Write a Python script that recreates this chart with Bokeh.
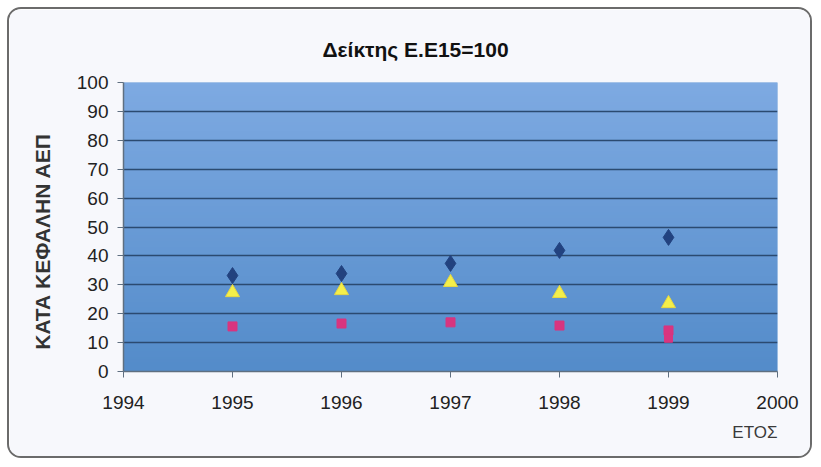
import numpy as np
from bokeh.plotting import figure
from bokeh.models import Title, FixedTicker, Range1d
from bokeh.embed import file_html
from bokeh.resources import INLINE

# ---- data ----
years = [1995, 1996, 1997, 1998, 1999]
series_diamond = [33.2, 33.9, 37.4, 41.9, 46.4]
series_triangle = [27.3, 28.0, 30.8, 27.0, 23.5]
series_square = [15.6, 16.6, 17.0, 15.9, 14.2]
series_extra = [np.nan, np.nan, np.nan, np.nan, 11.5]
x_ticks = [1994, 1995, 1996, 1997, 1998, 1999, 2000]
y_ticks = [0, 10, 20, 30, 40, 50, 60, 70, 80, 90, 100]

FONT = "Liberation Sans"
W, H = 805, 451
ML, MR, MT, MB = 114, 37, 73, 89

p = figure(width=W, height=H, output_backend="svg", toolbar_location=None,
           x_range=Range1d(1994, 2000), y_range=Range1d(0, 100),
           min_border_left=ML, min_border_right=MR, min_border_top=MT, min_border_bottom=MB,
           background_fill_color="#6a9bd6", border_fill_color="#f7f8fc",
           styles={"border": "2px solid #6b6b6b", "border-radius": "14px",
                   "overflow": "hidden", "margin-left": "7px", "margin-top": "7px"})
p.outline_line_color = None

# vertical gradient for plot area
h = 100
top = np.array([126, 170, 226])
bot = np.array([84, 140, 202])
img = np.zeros((h, 1), dtype=np.uint32)
view = img.view(dtype=np.uint8).reshape((h, 1, 4))
for i in range(h):
    t = i / (h - 1)
    c = bot * (1 - t) + top * t
    view[i, 0, 0] = int(c[0]); view[i, 0, 1] = int(c[1]); view[i, 0, 2] = int(c[2]); view[i, 0, 3] = 255
p.image_rgba(image=[img], x=1994, y=0, dw=6, dh=100, level="image")

# grid
p.xgrid.grid_line_color = None
p.ygrid.grid_line_color = "#2b4a70"
p.ygrid.grid_line_width = 1.6
p.ygrid.ticker = FixedTicker(ticks=y_ticks)

# axes
p.xaxis.ticker = FixedTicker(ticks=x_ticks)
p.yaxis.ticker = FixedTicker(ticks=y_ticks)
for ax in (p.xaxis[0], p.yaxis[0]):
    ax.axis_line_color = "#5f6f80"
    ax.axis_line_width = 1.5
    ax.major_tick_line_color = "#5f6f80"
    ax.major_tick_out = 6
    ax.major_tick_in = 0
    ax.minor_tick_line_color = None
    ax.major_label_text_font = FONT
    ax.major_label_text_font_size = "19px"
    ax.major_label_text_color = "#222222"
p.xaxis.major_label_standoff = 18
p.yaxis.major_label_standoff = 9

p.yaxis.axis_label = "ΚΑΤΑ ΚΕΦΑΛΗΝ ΑΕΠ" + "\u00a0" * 5
p.yaxis.axis_label_text_font = FONT
p.yaxis.axis_label_text_font_size = "21px"
p.yaxis.axis_label_text_font_style = "bold"
p.yaxis.axis_label_text_color = "#333333"
p.yaxis.axis_label_standoff = 20

# markers
p.scatter(years, series_square, marker="square", size=9, color="#d8357f", line_color="#d8357f")
p.scatter(years, series_extra, marker="square", size=8, color="#d8357f", line_color="#d8357f")
p.scatter(years, series_triangle, marker="triangle", size=14, color="#f4ef4a", line_color="#e8d840")
p.scatter(years, series_diamond, marker="diamond", size=16, color="#22427f", line_color="#22427f")

# title
p.title.text = "Δείκτης Ε.Ε15=100"
p.title.text_font = FONT
p.title.text_font_style = "bold"
p.title.text_font_size = "21px"
p.title.text_color = "#111111"
p.title.align = "left"
p.title.offset = 199
p.title.standoff = 44

# x axis title
p.add_layout(Title(text="ΕΤΟΣ", align="right", text_font=FONT, text_font_size="17px",
                   text_font_style="normal", text_color="#3a3a3a", standoff=19), "below")

open("out.html", "w").write(file_html(p, INLINE))
